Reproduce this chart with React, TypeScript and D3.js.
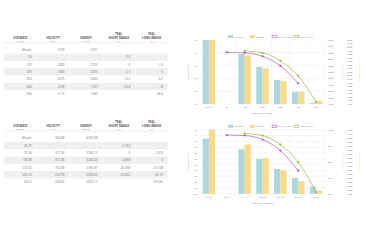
import * as d3 from "d3";

// imperial table / top chart
const DIST_YD = ["Muzzle", "50", "100", "200", "300", "400", "500"];
const VEL_FPS = [3100, null, 2880, 2680, 2475, 2290, 2115];
const ENERGY_FTLB = [3201, null, 2763, 2393, 2040, 1747, 1490];
const SHORT_IN = [null, 0.3, 0, -2.7, -10.2, -23.8, null];
const LONG_IN = [null, null, 1.3, 0, -6.2, -18, -38.4];

// metric table / bottom chart
const DIST_M = ["Muzzle", "45.72", "91.44", "182.88", "274.32", "365.76", "457.2"];
const VEL_MS = [944.88, null, 877.82, 816.86, 754.38, 697.99, 644.65];
const ENERGY_J = [4339.98, null, 3746.13, 3244.48, 2765.87, 2368.62, 2020.17];
const SHORT_CM = [null, 0.762, 0, -6.858, -25.908, -60.452, null];
const LONG_CM = [null, null, 3.302, 0, -15.748, -45.72, -97.536];

const TRAJ_TICKS_IN = [10, 0, -10, -20, -30, -40];
const VEL_TICKS_FPS = [2100, 2200, 2300, 2400, 2500, 2600, 2700, 2800, 2900, 3000, 3100];
const EN_TICKS_FTLB = [1400, 1500, 1600, 1700, 1800, 1900, 2000, 2100, 2200, 2300, 2400, 2500, 2600, 2700, 2800, 2900, 3000, 3100, 3200];
const TRAJ_TICKS_CM = [10, 0, -10, -20, -30, -40, -50, -60, -70, -80, -90, -100];
const VEL_TICKS_MS = [600, 700, 800, 900, 1000];
const EN_TICKS_J = [1900, 2050, 2200, 2350, 2500, 2650, 2800, 2950, 3100, 3250, 3400, 3550, 3700, 3850, 4000, 4150, 4300];

const HEADERS = ["DISTANCE", "VELOCITY", "ENERGY", "TRAJ.\nSHORT RANGE", "TRAJ.\nLONG RANGE"];
const UNITS_IMP = ["(YARDS)", "(FPS)", "(FT-LBS)", "(IN)", "(IN)"];
const UNITS_MET = ["(METERS)", "(M/S)", "(JOULES)", "(CM)", "(CM)"];
const LEGEND = ["VELOCITY", "ENERGY", "TRAJ. SHORT", "TRAJ. LONG"];

const TEAL = "#aed7dc";
const YELLOW = "#f6da8e";
const PURPLE = "#b159b4";
const GREEN = "#a8b83c";
const FONT = "'Open Sans', sans-serif";

function fmt(v, digits) {
  if (v === null || v === undefined) return "";
  return digits === 0 ? String(Math.round(v)) : String(v);
}

function Table({ top, dist, cols, units }) {
  const x = d3.scaleBand().domain(d3.range(5)).range([4, 168]);
  const rows = d3.scaleBand().domain(d3.range(dist.length)).range([top + 12.8, top + 12.8 + 7.3 * dist.length]);
  const cells = dist.map((d, i) => [d, ...cols.map((c) => c.fmt(c.values[i]))]);
  return (
    <g fontFamily={FONT}>
      {HEADERS.map((h, j) => {
        const parts = h.split("\n");
        const cx = x(j) + x.bandwidth() / 2;
        return (
          <g key={j}>
            {parts.length > 1 && (
              <text x={cx} y={top + 1.2} textAnchor="middle" fontSize={2.9} fontWeight="bold" fill="#555">{parts[0]}</text>
            )}
            <text x={cx} y={top + 5.3} textAnchor="middle" fontSize={2.9} fontWeight="bold" fill="#555">{parts[parts.length - 1]}</text>
            <text x={cx} y={top + 8} textAnchor="middle" fontSize={2.1} fill="#888">{units[j]}</text>
          </g>
        );
      })}
      <line x1={4} x2={168} y1={top + 9.3} y2={top + 9.3} stroke="#ddd" strokeWidth={0.5} />
      {cells.map((row, i) => (
        <g key={i}>
          {i % 2 === 1 &&
            row.map((_, j) => (
              <rect key={j} x={x(j) + 0.3} y={rows(i)} width={x.bandwidth() - 0.6} height={rows.bandwidth()} fill="#efefef" />
            ))}
          {row.map((c, j) => (
            <text key={"t" + j} x={x(j) + x.bandwidth() - 5} y={rows(i) + rows.bandwidth() / 2 + 1.1} textAnchor="end" fontSize={3} fill="#777">{c}</text>
          ))}
        </g>
      ))}
    </g>
  );
}

function Chart({ top, cats, vel, energy, short, long, trajTicks, velTicks, enTicks, xTitle, trajTitle, velTitle, enTitle }) {
  const left = 200;
  const right = 325;
  const bottom = top + 64;
  const x = d3.scaleBand().domain(cats).range([left, right]);
  const inner = d3.scaleBand().domain(["v", "e"]).range([x.bandwidth() * 0.15, x.bandwidth() * 0.85]);
  const yT = d3.scaleLinear().domain(d3.extent(trajTicks)).range([bottom, top]);
  const yV = d3.scaleLinear().domain(d3.extent(velTicks)).range([bottom, top]).clamp(true);
  const yE = d3.scaleLinear().domain(d3.extent(enTicks)).range([bottom, top]).clamp(true);
  const cx = (i) => x(cats[i]) + x.bandwidth() / 2;
  const line = d3
    .line()
    .defined((d) => d !== null)
    .x((d, i) => cx(i))
    .y((d) => yT(d))
    .curve(d3.curveMonotoneX);
  const legend = d3.scaleBand().domain(LEGEND).range([228, 316]);
  const legendColors = [TEAL, YELLOW, PURPLE, GREEN];
  const midY = (top + bottom) / 2;

  return (
    <g fontFamily={FONT}>
      {LEGEND.map((l, i) => (
        <g key={l}>
          <rect
            x={legend(l)}
            y={top - 4.6}
            width={5}
            height={2.4}
            fill={i < 2 ? legendColors[i] : "#f4eef4"}
            stroke={i < 2 ? legendColors[i] : legendColors[i]}
            strokeWidth={0.5}
          />
          <text x={legend(l) + 6.5} y={top - 2.5} fontSize={2.3} fill="#888">{l}</text>
        </g>
      ))}
      {trajTicks.map((t) => (
        <g key={t}>
          <line x1={left} x2={right} y1={yT(t)} y2={yT(t)} stroke="#e6e6e6" strokeWidth={0.4} />
          <text x={left - 3} y={yT(t) + 0.9} textAnchor="end" fontSize={2.4} fill="#777">{t}</text>
        </g>
      ))}
      {cats.map((c) => (
        <line key={c} x1={x(c)} x2={x(c)} y1={top} y2={bottom} stroke="#f0f0f0" strokeWidth={0.4} />
      ))}
      <line x1={right} x2={right} y1={top} y2={bottom} stroke="#f0f0f0" strokeWidth={0.4} />
      {velTicks.map((t) => (
        <text key={t} x={328} y={yV(t) + 0.9} fontSize={2.3} fill="#777">{t}</text>
      ))}
      {enTicks.map((t) => (
        <text key={t} x={347} y={yE(t) + 0.9} fontSize={2.3} fill="#777">{t}</text>
      ))}
      {cats.map((c, i) => (
        <g key={c}>
          {vel[i] !== null && (
            <rect x={x(c) + inner("v")} y={yV(vel[i])} width={inner.bandwidth()} height={bottom - yV(vel[i])} fill={TEAL} />
          )}
          {energy[i] !== null && (
            <rect x={x(c) + inner("e")} y={yE(energy[i])} width={inner.bandwidth()} height={bottom - yE(energy[i])} fill={YELLOW} />
          )}
          <text x={cx(i)} y={bottom + 4.4} textAnchor="middle" fontSize={2.4} fill="#777">{c}</text>
        </g>
      ))}
      <path d={line(short)} fill="none" stroke={PURPLE} strokeWidth={0.7} />
      <path d={line(long)} fill="none" stroke={GREEN} strokeWidth={0.7} />
      {short.map((d, i) => d !== null && <circle key={"s" + i} cx={cx(i)} cy={yT(d)} r={1.1} fill={PURPLE} />)}
      {long.map((d, i) => d !== null && <circle key={"l" + i} cx={cx(i)} cy={yT(d)} r={1.1} fill={GREEN} />)}
      <text x={(left + right) / 2} y={bottom + 10.3} textAnchor="middle" fontSize={2.4} fill="#888">{xTitle}</text>
      <text transform={`translate(188.5,${midY}) rotate(-90)`} textAnchor="middle" fontSize={2.3} fill="#999">{trajTitle}</text>
      <text transform={`translate(342.5,${midY}) rotate(-90)`} textAnchor="middle" fontSize={2.3} fill="#8cc8cf">{velTitle}</text>
      <text transform={`translate(360,${midY}) rotate(-90)`} textAnchor="middle" fontSize={2.3} fill="#ecc866">{enTitle}</text>
    </g>
  );
}

export default function App() {
  return (
    <svg width={365} height={240} style={{ position: "fixed", left: 0, top: 0, background: "#fff" }}>
      <rect width={365} height={240} fill="#fff" />
      <Table
        top={33.5}
        dist={DIST_YD}
        units={UNITS_IMP}
        cols={[
          { values: VEL_FPS, fmt: (v) => fmt(v, 0) },
          { values: ENERGY_FTLB, fmt: (v) => fmt(v, 0) },
          { values: SHORT_IN, fmt: (v) => fmt(v, 1) },
          { values: LONG_IN, fmt: (v) => fmt(v, 1) },
        ]}
      />
      <Table
        top={121.8}
        dist={DIST_M}
        units={UNITS_MET}
        cols={[
          { values: VEL_MS, fmt: (v) => fmt(v, 2) },
          { values: ENERGY_J, fmt: (v) => fmt(v, 2) },
          { values: SHORT_CM, fmt: (v) => fmt(v, 3) },
          { values: LONG_CM, fmt: (v) => fmt(v, 3) },
        ]}
      />
      <Chart
        top={40}
        cats={DIST_YD}
        vel={VEL_FPS}
        energy={ENERGY_FTLB}
        short={SHORT_IN}
        long={LONG_IN}
        trajTicks={TRAJ_TICKS_IN}
        velTicks={VEL_TICKS_FPS}
        enTicks={EN_TICKS_FTLB}
        xTitle="DISTANCE (YARDS)"
        trajTitle="TRAJECTORY (IN)"
        velTitle="VELOCITY (FPS)"
        enTitle="ENERGY (FT-LBS)"
      />
      <Chart
        top={129.7}
        cats={DIST_M}
        vel={VEL_MS}
        energy={ENERGY_J}
        short={SHORT_CM}
        long={LONG_CM}
        trajTicks={TRAJ_TICKS_CM}
        velTicks={VEL_TICKS_MS}
        enTicks={EN_TICKS_J}
        xTitle="DISTANCE (METERS)"
        trajTitle="TRAJECTORY (CM)"
        velTitle="VELOCITY (M/S)"
        enTitle="ENERGY (JOULES)"
      />
    </svg>
  );
}
